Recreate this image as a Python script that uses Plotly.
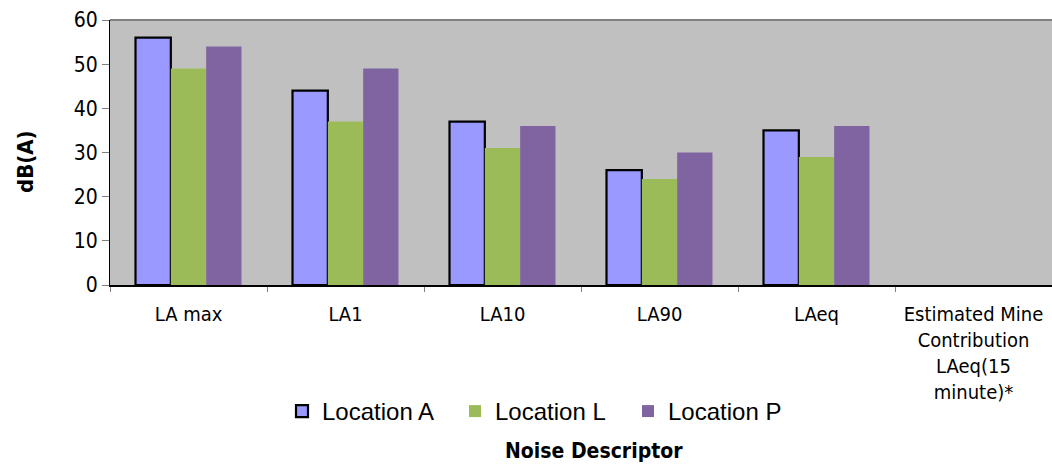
import plotly.graph_objects as go

categories = ["LA max", "LA1", "LA10", "LA90", "LAeq",
              "Estimated Mine<br>Contribution<br>LAeq(15<br>minute)*"]
location_a = [56, 44, 37, 26, 35, None]
location_l = [49, 37, 31, 24, 29, None]
location_p = [54, 49, 36, 30, 36, None]
y_ticks = [0, 10, 20, 30, 40, 50, 60]

narrow = "DejaVu Sans Condensed, Liberation Sans Narrow, Arial Narrow, sans-serif"

fig = go.Figure()
fig.add_trace(go.Bar(name="Location A", x=categories, y=location_a,
                     marker=dict(color="#9999FF", line=dict(color="#000000", width=2.2))))
fig.add_trace(go.Bar(name="Location L", x=categories, y=location_l,
                     marker=dict(color="#9BBB59", line=dict(width=0))))
fig.add_trace(go.Bar(name="Location P", x=categories, y=location_p,
                     marker=dict(color="#8064A2", line=dict(width=0))))

fig.update_layout(
    width=1052, height=466,
    margin=dict(l=110, r=0, t=20, b=181),
    paper_bgcolor="white", plot_bgcolor="#C0C0C0",
    barmode="group", bargap=0.325, bargroupgap=0,
    showlegend=True,
    legend=dict(orientation="h", x=(282-110)/942, xanchor="left",
                y=(285-389)/265, yanchor="top",
                font=dict(family="Liberation Sans, Arial, sans-serif", size=24, color="black"),
                entrywidth=128, itemwidth=30, bgcolor="rgba(0,0,0,0)"),
    xaxis=dict(type="category", showgrid=False, showline=True, linecolor="black", linewidth=1.5,
               ticks="outside", tickson="boundaries", ticklen=5, tickcolor="#808080",
               tickfont=dict(family=narrow, size=20, color="black"),
               ticklabelstandoff=10, range=[-0.5, 5.5]),
    yaxis=dict(range=[0, 60], tickvals=y_ticks, showgrid=False, zeroline=False,
               showline=True, linecolor="black", linewidth=1,
               ticks="outside", ticklen=7, tickcolor="#808080",
               tickfont=dict(family=narrow, size=21, color="black")),
    annotations=[
        dict(text="<b>dB(A)</b>", xref="paper", yref="paper", x=(25-110)/942, y=(285-162)/265,
             textangle=-90, showarrow=False, xanchor="center", yanchor="middle",
             font=dict(family=narrow, size=22, color="black")),
        dict(text="<b>Noise Descriptor</b>", xref="paper", yref="paper", x=(594-110)/942,
             y=(285-451)/265, showarrow=False, xanchor="center", yanchor="middle",
             font=dict(family=narrow, size=21, color="black")),
    ],
    shapes=[dict(type="line", xref="paper", yref="paper", x0=0, x1=1, y0=1, y1=1,
                 line=dict(color="#808080", width=2))],
)

fig.write_html("out.html", config={"displayModeBar": False},
               post_script="document.body.style.margin='0';document.body.style.overflow='hidden';")
